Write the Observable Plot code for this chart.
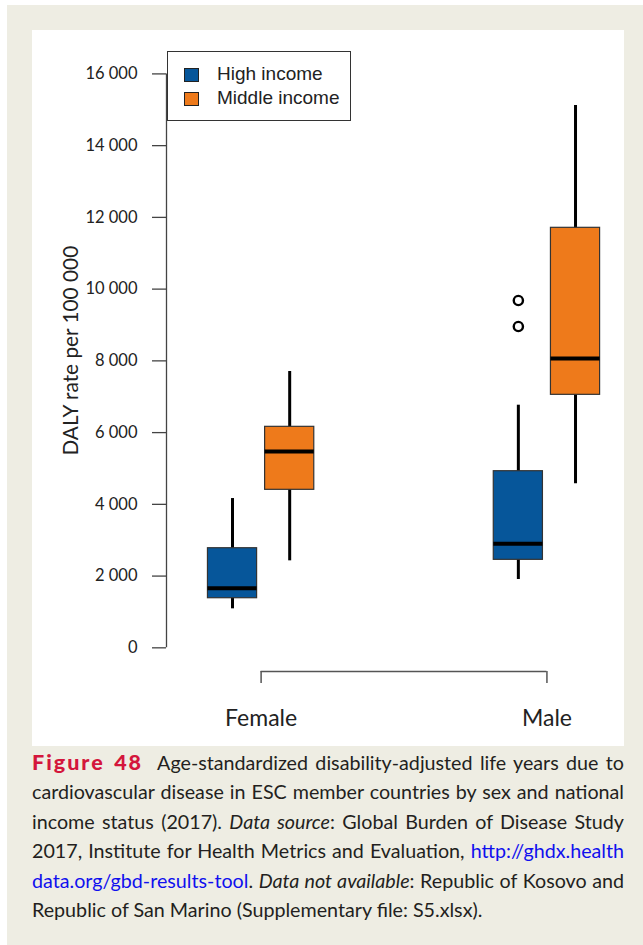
<!DOCTYPE html>
<html>
<head>
<meta charset="utf-8">
<script src="https://cdn.jsdelivr.net/npm/d3@7"></script>
<script src="https://cdn.jsdelivr.net/npm/@observablehq/plot@0.6"></script>
<style>
  html, body { margin: 0; padding: 0; background: #ffffff; width: 643px; height: 945px; overflow: hidden; }
  #bg { position: absolute; left: 7px; top: 5px; width: 636px; height: 940px; background: #EEEDE3; }
  #panel { position: absolute; left: 32px; top: 30px; width: 592px; height: 716px; background: #ffffff; }
  #panel svg { display: block; background: transparent; }
  #legend { position: absolute; left: 167px; top: 51px; width: 182px; height: 68px; border: 1px solid #333;
            background: #fff; font-family: "Liberation Sans", Arial, sans-serif; font-size: 19px; color: #222; }
  .sw { position: absolute; left: 16px; width: 13px; height: 12px; border: 1px solid #222; }
  .lt { position: absolute; left: 49px; line-height: 22px; white-space: nowrap; }
  #caption { position: absolute; left: 32px; top: 748px; width: 592px; font-family: Lato, "Open Sans", sans-serif;
             font-size: 19.7px; color: #231f20; }
  .ln { height: 29.4px; line-height: 29.4px; text-align: justify; text-align-last: justify; white-space: nowrap; }
  .ln.last { text-align: left; text-align-last: left; }
  .fig { color: #d4163c; font-weight: 900; font-size: 21.5px; letter-spacing: 2px; }
  .lnk { color: #1010ee; }
</style>
</head>
<body>
<div id="bg"></div>
<div id="panel"></div>
<div id="legend"></div>
<div id="caption"></div>
<script>
// ---- data ----
const sexes = ["Female", "Male"];
const groupPos = [1.5, 6.5];
const incomes = ["High income", "Middle income"];
const incomeColors = ["#06569A", "#EE7A1B"];
const boxSex = ["Female", "Female", "Male", "Male"];
const boxIncome = ["High income", "Middle income", "High income", "Middle income"];
const boxPos = [1, 2, 6, 7];
const whiskerLo = [1087, 2425, 1904, 4575];
const q1 = [1383, 4405, 2453, 7053];
const median = [1662, 5473, 2899, 8066];
const q3 = [2777, 6161, 4924, 11709];
const whiskerHi = [4162, 7703, 6764, 15119];
const outlierPos = [6, 6];
const outlierValue = [9683, 8958];
const yTicks = [0, 2000, 4000, 6000, 8000, 10000, 12000, 14000, 16000];
const yLabel = "DALY rate per 100 000";

// ---- layout constants ----
const halfW = 0.43;
const xMin = -0.155, xMax = 7.5;
const yMin = -660, yMax = 16000;

const boxes = boxPos.map((p, i) => ({
  pos: p, x1: p - halfW, x2: p + halfW, sex: boxSex[i], income: boxIncome[i],
  lo: whiskerLo[i], q1: q1[i], med: median[i], q3: q3[i], hi: whiskerHi[i]
}));
const outliers = outlierPos.map((p, i) => ({pos: p, value: outlierValue[i]}));
const fmt = d => d3.format(",")(d).replace(/,/g, " ");

const chart = Plot.plot({
  width: 592, height: 716,
  marginLeft: 134, marginRight: 20.4, marginTop: 43.4, marginBottom: 75,
  style: {background: "transparent", fontFamily: "Lato, sans-serif", color: "#222"},
  x: {domain: [xMin, xMax], axis: null},
  y: {domain: [yMin, yMax], axis: null},
  color: {domain: incomes, range: incomeColors},
  marks: [
    Plot.ruleX([xMin], {y1: yTicks[0], y2: yTicks[yTicks.length - 1], stroke: "#444", strokeWidth: 1.3}),
    Plot.axisY({ticks: yTicks, tickFormat: fmt, tickSize: 14, tickPadding: 15, fontSize: 16.5,
                stroke: "#444", strokeWidth: 1.3, strokeOpacity: 1, fill: "#222", label: null}),
    Plot.text([yLabel], {frameAnchor: "left", rotate: -90, dx: -95, dy: -22, textAnchor: "middle",
                         lineAnchor: "middle", fontSize: 20.8, fill: "#222"}),
    Plot.ruleY([yMin], {x1: groupPos[0], x2: groupPos[1], stroke: "#555", strokeWidth: 1.5}),
    Plot.axisX({ticks: groupPos, tickFormat: d => sexes[groupPos.indexOf(d)], tickSize: 12, tickPadding: 26,
                fontSize: 23, stroke: "#555", strokeWidth: 1.5, strokeOpacity: 1, fill: "#222", label: null}),
    Plot.ruleX(boxes, {x: "pos", y1: "lo", y2: "hi", stroke: "#000", strokeWidth: 3}),
    Plot.rect(boxes, {x1: "x1", x2: "x2", y1: "q1", y2: "q3", fill: "income", stroke: "#333", strokeWidth: 1.2}),
    Plot.ruleY(boxes, {y: "med", x1: "x1", x2: "x2", stroke: "#000", strokeWidth: 4}),
    Plot.dot(outliers, {x: "pos", y: "value", r: 4.6, stroke: "#000", strokeWidth: 2.4, fill: "none"})
  ]
});
document.getElementById("panel").appendChild(chart);

// ---- legend ----
const legend = document.getElementById("legend");
incomes.forEach((name, i) => {
  const sw = document.createElement("div");
  sw.className = "sw";
  sw.style.top = (16 + i * 24) + "px";
  sw.style.background = incomeColors[i];
  legend.appendChild(sw);
  const t = document.createElement("div");
  t.className = "lt";
  t.style.top = (11 + i * 24) + "px";
  t.textContent = name;
  legend.appendChild(t);
});

// ---- caption ----
const captionLines = [
  '<span class="fig">Figure 48</span>&nbsp; Age-standardized disability-adjusted life years due to',
  'cardiovascular disease in ESC member countries by sex and national',
  'income status (2017). <i>Data source</i>: Global Burden of Disease Study',
  '2017, Institute for Health Metrics and Evaluation, <span class="lnk">http://ghdx.health</span>',
  '<span class="lnk">data.org/gbd-results-tool</span>. <i>Data not available</i>: Republic of Kosovo and',
  'Republic of San Marino (Supplementary file: S5.xlsx).'
];
const cap = document.getElementById("caption");
captionLines.forEach((html, i) => {
  const d = document.createElement("div");
  d.className = "ln" + (i === captionLines.length - 1 ? " last" : "");
  d.innerHTML = html;
  cap.appendChild(d);
});
</script>
</body>
</html>
